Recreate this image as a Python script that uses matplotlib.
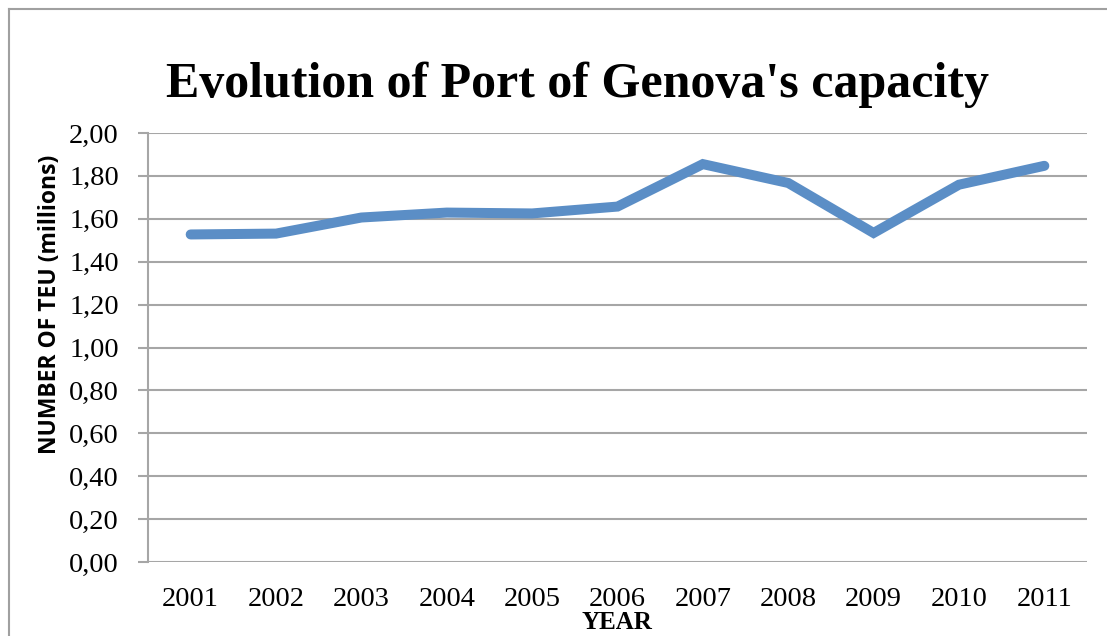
import matplotlib
matplotlib.use("Agg")
import matplotlib.pyplot as plt
from matplotlib.lines import Line2D
from matplotlib.ticker import FuncFormatter

# Port of Genova container traffic (millions of TEU)
years = ['2001', '2002', '2003', '2004', '2005', '2006',
         '2007', '2008', '2009', '2010', '2011']
teu = [1.527, 1.531, 1.606, 1.629, 1.625, 1.657,
       1.855, 1.767, 1.534, 1.759, 1.847]
y_ticks = [0.0, 0.2, 0.4, 0.6, 0.8, 1.0, 1.2, 1.4, 1.6, 1.8, 2.0]

serif = 'Liberation Serif'
grid_col = '#a6a6a6'
W, H = 1107, 636

fig = plt.figure(figsize=(W / 100, H / 100), dpi=100)
ax = fig.add_axes([148/W, 1 - 562/H, (1087 - 148)/W, (562 - 133)/H])

x = list(range(len(years)))
ax.plot(x, teu, color='#5b8ec6', linewidth=7.2, solid_capstyle='round',
        solid_joinstyle='miter')

ax.set_xlim(-0.5, len(years) - 0.5)
ax.set_ylim(0, 2.0)
ax.set_yticks(y_ticks)
ax.yaxis.set_major_formatter(FuncFormatter(lambda v, p: f"{v:.2f}".replace('.', ',')))
ax.set_xticks(x)
ax.set_xticklabels(years)

ax.grid(axis='y', color=grid_col, linewidth=1.5)
ax.set_axisbelow(True)
for s in ['top', 'right', 'bottom']:
    ax.spines[s].set_visible(False)
ax.spines['left'].set_color(grid_col)
ax.spines['left'].set_linewidth(1.5)

ax.tick_params(axis='y', length=7, width=1.5, color=grid_col, pad=14)
ax.tick_params(axis='x', length=0, pad=18)
for lab in ax.get_xticklabels() + ax.get_yticklabels():
    lab.set_fontfamily(serif)
    lab.set_fontsize(20.5)

# axis titles placed as figure text
fig.text(617/W, 1 - 634/H, 'YEAR', ha='center', va='bottom',
         fontfamily=serif, fontweight='bold', fontsize=18)
fig.text(50/W, 1 - 304/H, 'NUMBER OF TEU (millions)', ha='center', va='center',
         rotation=90, fontfamily='Open Sans', fontweight='bold', fontsize=16.5)

fig.text(577/W, 1 - 97/H, "Evolution of Port of Genova's capacity",
         ha='center', va='baseline', fontfamily=serif, fontweight='bold', fontsize=36)

# chart border (top and left edges visible)
fig.add_artist(Line2D([9/W, 1], [1 - 9/H, 1 - 9/H], color='#a0a0a0', linewidth=1.5))
fig.add_artist(Line2D([9/W, 9/W], [0, 1 - 9/H], color='#a0a0a0', linewidth=1.5))

fig.savefig('out.png', dpi=100)
